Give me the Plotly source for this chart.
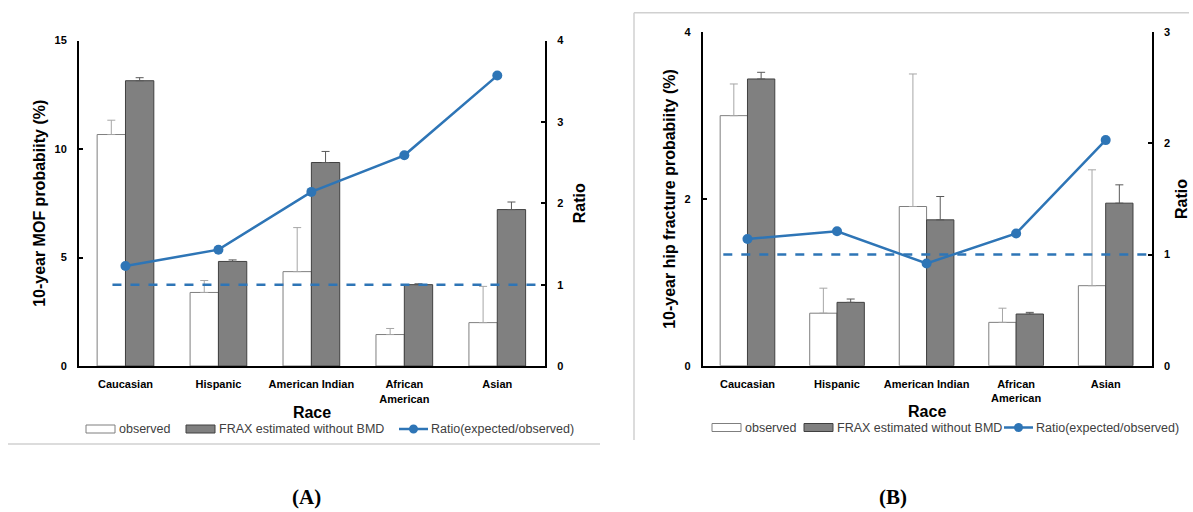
import plotly.graph_objects as go

W, H = 1193, 512

# ---------------- data ----------------
races = ["Caucasian", "Hispanic", "American Indian", "African<br>American", "Asian"]

mof_observed = [10.67, 3.39, 4.35, 1.45, 2.00]
mof_observed_err = [0.66, 0.55, 2.03, 0.28, 1.67]
mof_frax = [13.15, 4.82, 9.38, 3.75, 7.21]
mof_frax_err = [0.14, 0.07, 0.51, 0.04, 0.35]
mof_ratio = [1.23, 1.43, 2.14, 2.59, 3.57]

hip_observed = [3.00, 0.63, 1.91, 0.52, 0.96]
hip_observed_err = [0.38, 0.30, 1.59, 0.17, 1.39]
hip_frax = [3.44, 0.76, 1.75, 0.62, 1.95]
hip_frax_err = [0.08, 0.04, 0.28, 0.02, 0.22]
hip_ratio = [1.14, 1.21, 0.92, 1.19, 2.03]

reference_ratio = 1.0

legend_labels = ["observed", "FRAX estimated without BMD", "Ratio(expected/observed)"]

# ---------------- styles ----------------
FONT = "Liberation Sans"
BLUE = "#2e75b6"
GRAY_FILL = "#808080"
GRAY_EDGE = "#404040"
OBS_EDGE = "#7f7f7f"
OBS_ERR = "#a6a6a6"
FRAX_ERR = "#595959"
TXT = "#404040"


def px(x):
    return x / W


def py(y):
    return 1 - y / H


fig = go.Figure()


def add_panel(xa, ya_left, ya_right, obs, obs_err, frax, frax_err, ratio):
    fig.add_trace(go.Bar(
        x=races, y=obs, xaxis=xa, yaxis=ya_left, offsetgroup="obs",
        marker=dict(color="white", line=dict(color=OBS_EDGE, width=1)),
        error_y=dict(type="data", array=obs_err, arrayminus=[0] * len(obs),
                     symmetric=False, color=OBS_ERR, thickness=1, width=4),
        name=legend_labels[0], showlegend=False))
    fig.add_trace(go.Bar(
        x=races, y=frax, xaxis=xa, yaxis=ya_left, offsetgroup="frax",
        marker=dict(color=GRAY_FILL, line=dict(color=GRAY_EDGE, width=1)),
        error_y=dict(type="data", array=frax_err, arrayminus=[0] * len(frax),
                     symmetric=False, color=FRAX_ERR, thickness=1, width=4),
        name=legend_labels[1], showlegend=False))
    fig.add_trace(go.Scatter(
        x=races, y=ratio, xaxis=xa, yaxis=ya_right, mode="lines+markers",
        line=dict(color=BLUE, width=2.5), marker=dict(size=10, color=BLUE),
        name=legend_labels[2], showlegend=False))


add_panel("x", "y", "y2", mof_observed, mof_observed_err, mof_frax, mof_frax_err, mof_ratio)
add_panel("x2", "y3", "y4", hip_observed, hip_observed_err, hip_frax, hip_frax_err, hip_ratio)

tickfont = dict(family=FONT, size=11, color="black", weight="bold")
titlefont = dict(family=FONT, size=16, color="black", weight="bold")

# panel geometry (pixels)
A = dict(x0=79, x1=545, ytop=40.6, ybot=366)
B = dict(x0=702.7, x1=1151.7, ytop=32.3, ybot=365.7)


def xaxis(p, anchor):
    return dict(domain=[px(p["x0"]), px(p["x1"])], anchor=anchor, automargin=False,
                showline=True, linecolor="black", linewidth=2, ticks="",
                showgrid=False, zeroline=False, tickfont=tickfont,
                ticklabelstandoff=7,
                title=dict(text="Race", font=titlefont, standoff=3))


def yaxis(p, anchor, rng, dtick, title, side="left", overlaying=None, standoff=5):
    d = dict(domain=[py(p["ybot"]), py(p["ytop"])], anchor=anchor, range=rng,
             dtick=dtick, showline=True, linecolor="black", linewidth=2,
             automargin=False,
             ticks="inside", ticklen=4, tickwidth=2, tickcolor="black",
             showgrid=False, zeroline=False, tickfont=tickfont, side=side,
             ticklabelstandoff=8,
             title=dict(text=title, font=titlefont, standoff=standoff))
    if overlaying:
        d["overlaying"] = overlaying
    return d


fig.update_layout(
    template="none",
    width=W, height=H,
    autosize=False,
    margin=dict(l=0, r=0, t=0, b=0, pad=0, autoexpand=False),
    paper_bgcolor="white", plot_bgcolor="white",
    barmode="group", bargap=0.39, bargroupgap=0,
    font=dict(family=FONT, color="black"),
    xaxis=xaxis(A, "y"),
    yaxis=yaxis(A, "x", [0, 15], 5, "10-year MOF probabiity (%)"),
    yaxis2=yaxis(A, "x", [0, 4], 1, "Ratio", side="right", overlaying="y", standoff=11),
    xaxis2=xaxis(B, "y3"),
    yaxis3=yaxis(B, "x2", [0, 4], 2, "10-year hip fracture probabiity (%)"),
    yaxis4=yaxis(B, "x2", [0, 3], 1, "Ratio", side="right", overlaying="y3", standoff=7),
    showlegend=False,
)

shapes = []
annotations = []

# reference dashed lines at ratio = 1
shapes.append(dict(type="line", xref="x", yref="y2", x0=-0.14, x1=4.5,
                   y0=reference_ratio, y1=reference_ratio,
                   line=dict(color=BLUE, width=2.5, dash="dash")))
shapes.append(dict(type="line", xref="x2", yref="y4", x0=-0.27, x1=4.5,
                   y0=reference_ratio, y1=reference_ratio,
                   line=dict(color=BLUE, width=2.5, dash="dash")))

# frame lines of the original figure
shapes.append(dict(type="line", xref="paper", yref="paper", x0=px(8), x1=px(600),
                   y0=py(444), y1=py(444), line=dict(color="#d0d0d0", width=1.5)))
shapes.append(dict(type="line", xref="paper", yref="paper", x0=px(634), x1=px(1189),
                   y0=py(12.7), y1=py(12.7), line=dict(color="#d0d0d0", width=1.5)))
shapes.append(dict(type="line", xref="paper", yref="paper", x0=px(634), x1=px(634),
                   y0=py(12.7), y1=py(440), line=dict(color="#d0d0d0", width=1.5)))


def legend(y, obs_x, frax_x, line_x):
    shapes.append(dict(type="rect", xref="paper", yref="paper",
                       x0=px(obs_x), x1=px(obs_x + 29), y0=py(y + 4), y1=py(y - 4),
                       fillcolor="white", line=dict(color=OBS_EDGE, width=1)))
    annotations.append(dict(xref="paper", yref="paper", x=px(obs_x + 31), y=py(y),
                            text=legend_labels[0], showarrow=False, xanchor="left",
                            yanchor="middle", font=dict(family=FONT, size=12.5, color=TXT)))
    shapes.append(dict(type="rect", xref="paper", yref="paper",
                       x0=px(frax_x), x1=px(frax_x + 29), y0=py(y + 4), y1=py(y - 4),
                       fillcolor=GRAY_FILL, line=dict(color=GRAY_EDGE, width=1)))
    annotations.append(dict(xref="paper", yref="paper", x=px(frax_x + 31), y=py(y),
                            text=legend_labels[1], showarrow=False, xanchor="left",
                            yanchor="middle", font=dict(family=FONT, size=12.5, color=TXT)))
    shapes.append(dict(type="line", xref="paper", yref="paper",
                       x0=px(line_x), x1=px(line_x + 29), y0=py(y), y1=py(y),
                       line=dict(color=BLUE, width=2.5)))
    shapes.append(dict(type="circle", xref="paper", yref="paper",
                       x0=px(line_x + 10), x1=px(line_x + 19),
                       y0=py(y + 4.5), y1=py(y - 4.5),
                       fillcolor=BLUE, line=dict(color=BLUE, width=0)))
    annotations.append(dict(xref="paper", yref="paper", x=px(line_x + 30), y=py(y),
                            text=legend_labels[2], showarrow=False, xanchor="left",
                            yanchor="middle", font=dict(family=FONT, size=12.5, color=TXT)))


legend(429, 86, 186, 399)
legend(427.5, 712, 804, 1004)

for lbl, xc in [("(A)", 306), ("(B)", 893)]:
    annotations.append(dict(xref="paper", yref="paper", x=px(xc), y=py(497),
                            text="<b>" + lbl + "</b>", showarrow=False,
                            xanchor="center", yanchor="middle",
                            font=dict(family="Liberation Serif", size=21, color="black")))

fig.update_layout(shapes=shapes, annotations=annotations)

fig.write_html("out.html", config={"displayModeBar": False},
               post_script="document.body.style.margin='0';")
